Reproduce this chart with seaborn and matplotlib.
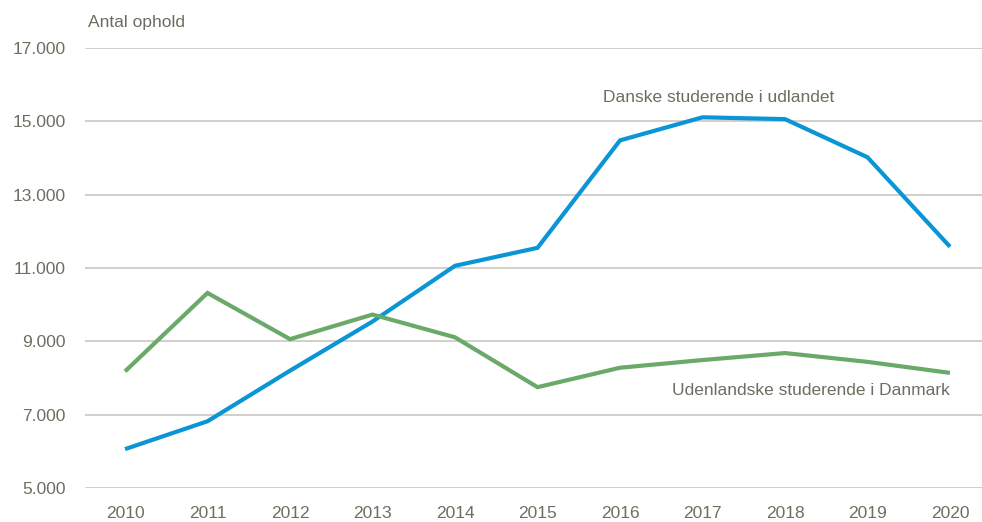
import matplotlib
matplotlib.use("Agg")
import matplotlib.pyplot as plt
from matplotlib import font_manager
import seaborn as sns
import pandas as pd

years = [2010, 2011, 2012, 2013, 2014, 2015, 2016, 2017, 2018, 2019, 2020]
danske_udland = [6060, 6820, 8200, 9540, 11060, 11550, 14480, 15110, 15060, 14020, 11580]
udenlandske_dk = [8180, 10320, 9060, 9730, 9110, 7750, 8280, 8490, 8680, 8440, 8140]
yticks = [5000, 7000, 9000, 11000, 13000, 15000, 17000]
ytick_labels = ["5.000", "7.000", "9.000", "11.000", "13.000", "15.000", "17.000"]
series_names = ["Danske studerende i udlandet", "Udenlandske studerende i Danmark"]

sns.set_theme(style="white")
names = {f.name for f in font_manager.fontManager.ttflist}
fam = "Liberation Sans Narrow" if "Liberation Sans Narrow" in names else "Liberation Sans"
plt.rcParams["font.family"] = [fam, "DejaVu Sans"]

txt = "#6e6e60"
grid = "#c9c7bd"
blue = "#0a95d6"
green = "#6aa96a"
fs = 12.5

df = pd.DataFrame({
    "year": years * 2,
    "value": danske_udland + udenlandske_dk,
    "series": [series_names[0]] * len(years) + [series_names[1]] * len(years),
})
df["pos"] = df["year"] - years[0]

fig = plt.figure(figsize=(9.82, 5.22), dpi=100)
ax = fig.add_axes([85 / 982, 1 - 488 / 522, 897 / 982, 440 / 522])

sns.lineplot(data=df, x="pos", y="value", hue="series",
             palette={series_names[0]: blue, series_names[1]: green},
             linewidth=3.0, legend=False, ax=ax, zorder=3)
for l in ax.lines:
    l.set_solid_capstyle("butt")
    l.set_solid_joinstyle("miter")

ax.set_xlim(-40 / 82.5, 10 + 32 / 82.5)
ax.set_ylim(5000, 17000)
ax.set_yticks(yticks)
ax.set_yticklabels(ytick_labels)
ax.set_xticks(range(len(years)))
ax.set_xticklabels([str(y) for y in years])
for y in yticks:
    ax.axhline(y, color=grid, lw=1.2, zorder=1)
for s in ax.spines.values():
    s.set_visible(False)
ax.tick_params(axis="both", length=0, labelsize=fs, colors=txt)
ax.tick_params(axis="y", pad=14)
ax.tick_params(axis="x", pad=13)
ax.set_xlabel("")
ax.set_ylabel("")

ax.text(7.2, 15650, series_names[0], ha="center", va="center", fontsize=fs, color=txt)
ax.text(10.0, 7650, series_names[1], ha="right", va="center", fontsize=fs, color=txt)
fig.text(88 / 982, 1 - 23 / 522, "Antal ophold", ha="left", va="center", fontsize=fs, color=txt)

fig.savefig("out.png", dpi=100)
